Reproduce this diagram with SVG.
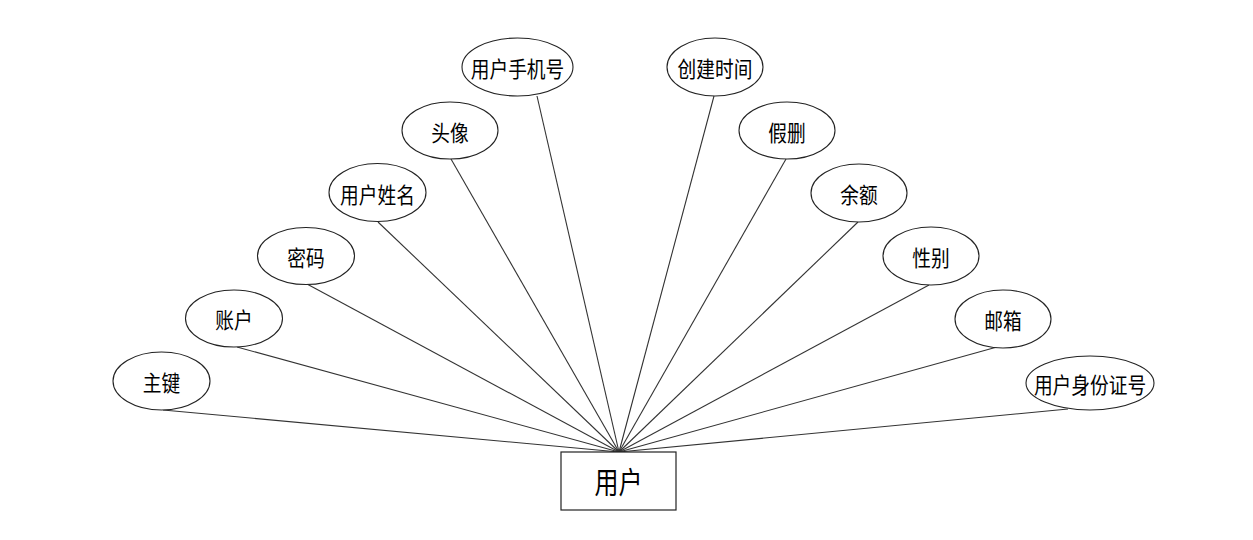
<svg xmlns="http://www.w3.org/2000/svg" width="1253" height="540" viewBox="0 0 1253 540">
<style>
.e{fill:#fff;stroke:#222;stroke-width:1.1}
.t{font-family:"Liberation Sans","Noto Sans CJK SC",sans-serif;font-size:22px;fill:#000;text-anchor:middle;dominant-baseline:central}
.b{font-size:30px}
.c line{stroke:#333;stroke-width:1.1}
.r{fill:#fff;stroke:#222;stroke-width:1.2}
</style>
<rect width="1253" height="540" fill="#fff"/>
<g class="c" id="connectors">
<line x1="163" y1="410" x2="619" y2="452"/>
<line x1="237" y1="347" x2="619" y2="452"/>
<line x1="307" y1="284" x2="619" y2="452"/>
<line x1="378" y1="222" x2="619" y2="452"/>
<line x1="451" y1="159" x2="619" y2="452"/>
<line x1="537" y1="96" x2="619" y2="452"/>
<line x1="714" y1="96" x2="619" y2="452"/>
<line x1="786" y1="159" x2="619" y2="452"/>
<line x1="858" y1="222" x2="619" y2="452"/>
<line x1="929" y1="285" x2="619" y2="452"/>
<line x1="997" y1="347" x2="619" y2="452"/>
<line x1="1068" y1="409" x2="619" y2="452"/>
</g>
<g id="n-zhujian"><ellipse class="e" cx="161.5" cy="381" rx="48.5" ry="29"/><text class="t" transform="translate(161.5 383) scale(0.85 1)">主键</text></g>
<g id="n-zhanghu"><ellipse class="e" cx="234" cy="318.5" rx="48.5" ry="28.5"/><text class="t" transform="translate(234 320) scale(0.85 1)">账户</text></g>
<g id="n-mima"><ellipse class="e" cx="306" cy="256" rx="48.5" ry="28.5"/><text class="t" transform="translate(306 258) scale(0.85 1)">密码</text></g>
<g id="n-xingming"><ellipse class="e" cx="377.5" cy="192.5" rx="48.5" ry="29"/><text class="t" transform="translate(377.5 195) scale(0.85 1)">用户姓名</text></g>
<g id="n-touxiang"><ellipse class="e" cx="450" cy="130.5" rx="48" ry="28.5"/><text class="t" transform="translate(450 133) scale(0.85 1)">头像</text></g>
<g id="n-shouji"><ellipse class="e" cx="517.5" cy="67" rx="55.5" ry="29"/><text class="t" transform="translate(517.5 69) scale(0.85 1)">用户手机号</text></g>
<g id="n-chuangjian"><ellipse class="e" cx="715" cy="67" rx="48" ry="29"/><text class="t" transform="translate(715 69) scale(0.85 1)">创建时间</text></g>
<g id="n-jiashan"><ellipse class="e" cx="787" cy="130.5" rx="48" ry="28.5"/><text class="t" transform="translate(787 133) scale(0.85 1)">假删</text></g>
<g id="n-yue"><ellipse class="e" cx="859" cy="193" rx="48" ry="29"/><text class="t" transform="translate(859 195) scale(0.85 1)">余额</text></g>
<g id="n-xingbie"><ellipse class="e" cx="931" cy="256" rx="48" ry="29"/><text class="t" transform="translate(931 258) scale(0.85 1)">性别</text></g>
<g id="n-youxiang"><ellipse class="e" cx="1003" cy="319" rx="48" ry="29"/><text class="t" transform="translate(1003 321) scale(0.85 1)">邮箱</text></g>
<g id="n-shenfenzheng"><ellipse class="e" cx="1090" cy="383" rx="64" ry="27"/><text class="t" transform="translate(1090 385) scale(0.85 1)">用户身份证号</text></g>
<g id="n-yonghu"><rect class="r" x="561" y="452" width="115" height="58"/><text class="t b" transform="translate(618.5 483) scale(0.8 1)">用户</text></g>
</svg>
